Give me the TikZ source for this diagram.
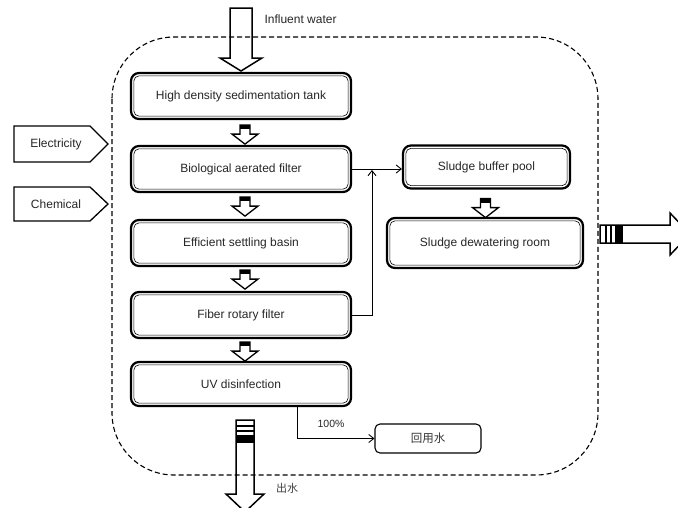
\documentclass[tikz,border=0pt]{standalone}
\usepackage{fontspec}
\setmainfont{Liberation Sans}
\newfontfamily\cjk{Noto Sans CJK SC}
\usetikzlibrary{arrows.meta,calc}
\begin{document}
\begin{tikzpicture}[x=1pt,y=-1pt,
  txt/.style={font=\fontsize{12}{14}\selectfont, text=black!85},
  dbox/.style={draw, line width=2.2pt, rounded corners=8pt, txt, inner sep=0pt},
  inbox/.style={draw, line width=0.6pt, rounded corners=5pt},
  hollow/.style={draw, line width=1.5pt, fill=none, line join=miter},
  conn/.style={line width=0.9pt, -{Straight Barb[length=5pt,width=8pt]}},
  smalldown/.pic={
    \fill (-5,0) rectangle (5,4);
    \draw[line width=1.3pt, line join=miter] (-5,0) -- (5,0) -- (5,9) -- (13,9) -- (0,19) -- (-13,9) -- (-5,9) -- cycle;
  }
]
\useasboundingbox (0,0) rectangle (678,507);

% dashed boundary
\draw[line width=1.1pt, dash pattern=on 5pt off 3pt, rounded corners=62pt] (112,37) rectangle (598,475);

% influent arrow
\draw[hollow] (230,8) -- (252,8) -- (252,58) -- (262,58) -- (241,71) -- (220,58) -- (230,58) -- cycle;
\node[txt, anchor=west] (inf) at (261,19) {Influent water};

% main boxes
\node[dbox, minimum width=220pt, minimum height=46pt] (b1) at (241,96) {High density sedimentation tank};
\node[dbox, minimum width=220pt, minimum height=46pt] (b2) at (241,169) {Biological aerated filter};
\node[dbox, minimum width=220pt, minimum height=46pt] (b3) at (241,243) {Efficient settling basin};
\node[dbox, minimum width=220pt, minimum height=46pt] (b4) at (241,315) {Fiber rotary filter};
\node[dbox, minimum width=220pt, minimum height=44pt] (b5) at (241,384) {UV disinfection};
\node[dbox, minimum width=167pt, minimum height=43pt] (sb) at (486.5,167) {Sludge buffer pool};
\node[dbox, minimum width=196pt, minimum height=50pt] (sd) at (485,243) {Sludge dewatering room};
\foreach \n in {b1,b2,b3,b4,b5,sb,sd}{
  \draw[inbox] ([shift={(4,4)}]\n.north west) rectangle ([shift={(-4,-4)}]\n.south east);
}

% small hollow arrows
\pic at ($(b1.south)+(4,5)$) {smalldown};
\pic at ($(b2.south)+(4,4)$) {smalldown};
\pic at ($(b3.south)+(4,3)$) {smalldown};
\pic at ($(b4.south)+(4,3)$) {smalldown};
\pic at ($(sb.south)+(-1,9)$) {smalldown};

% input pentagons
\draw[line width=1.3pt, line join=miter] (14,126) -- (90,126) -- (108,144) -- (90,162) -- (14,162) -- cycle;
\node[txt] (elec) at (56,144) {Electricity};
\draw[line width=1.3pt, line join=miter] (14,187) -- (90,187) -- (108,204) -- (90,221) -- (14,221) -- cycle;
\node[txt] (chem) at (56,204) {Chemical};

% connectors
\coordinate (j) at (372,170);
\draw[conn] (b2.east) -- (b2.east -| sb.west);
\draw[conn] (b4.east) -| (j);

% reuse water
\node[draw, line width=1.1pt, rounded corners=5pt, minimum width=106pt, minimum height=29pt, font=\cjk\fontsize{11.5}{13}\selectfont, text=black!80] (reuse) at (428,438.5) {回用水};
\coordinate (uvo) at (297,406);
\draw[conn] (uvo) |- (reuse.west);
\node[txt, font=\fontsize{10.5}{12}\selectfont] (pct) at (331,424) {100\%};

% outflow arrow (bottom)
\draw[hollow] (236,420) -- (254,420) -- (254,494) -- (264,494) -- (245,512) -- (226,494) -- (236,494) -- cycle;
\draw[line width=1.4pt] (236,426) -- (254,426);
\draw[line width=1.4pt] (236,431) -- (254,431);
\fill (236,435) rectangle (254,443);
\node[font=\cjk\fontsize{11}{12}\selectfont, text=black!75] (out) at (287,488) {出水};

% sludge out arrow (right)
\draw[hollow] (600,225) -- (670,225) -- (670,213) -- (690,234) -- (670,255) -- (670,243) -- (600,243) -- cycle;
\draw[line width=1.4pt] (606,225) -- (606,243);
\draw[line width=1.4pt] (611,225) -- (611,243);
\fill (615,225) rectangle (623,243);
\end{tikzpicture}
\end{document}
